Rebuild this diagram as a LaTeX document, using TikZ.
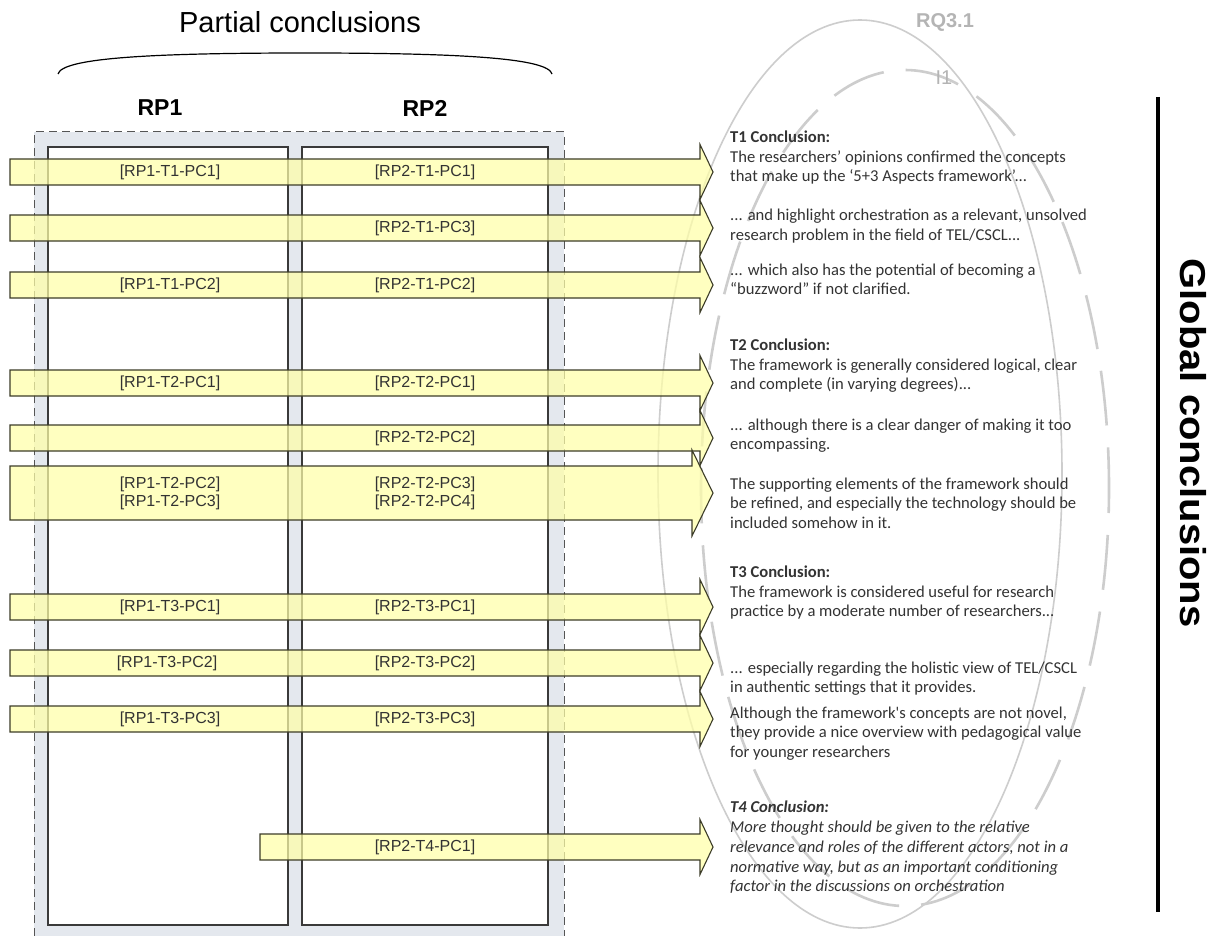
\documentclass[tikz,border=0pt]{standalone}
\usepackage{fontspec}
\setmainfont{Liberation Sans}
\newfontfamily\conclfont{Carlito}
\usetikzlibrary{calc}

\definecolor{stripgray}{HTML}{E4E8EE}
\definecolor{framegray}{HTML}{555555}
\definecolor{colline}{HTML}{3A3A3A}
\definecolor{arrowfill}{HTML}{FFFFA8}
\definecolor{arrowline}{HTML}{3C3C28}
\definecolor{ovalgray}{HTML}{CDCDCD}
\definecolor{rqgray}{HTML}{B4B4B4}
\definecolor{textgray}{HTML}{333333}

\tikzset{
  colbox/.style={draw=colline, line width=1.2pt, fill=white},
  pcarrowstyle/.style={draw=arrowline, line width=1.1pt, fill=arrowfill, fill opacity=0.72, line join=miter},
  pclabel/.style={font=\fontsize{16}{18}\selectfont, text=textgray, align=center, inner sep=0pt},
  concl/.style={font=\conclfont\fontsize{16.6}{19.5}\selectfont, text=textgray, anchor=base west, inner sep=0pt},
  headtitle/.style={font=\bfseries\fontsize{23}{26}\selectfont, text=black, inner sep=0pt},
}

% arrow: #1 start x, #2 centre y, #3 body half height, #4 head base x, #5 head half height
\newcommand{\pcarrow}[5]{%
  \draw[pcarrowstyle] (#1,#2-#3) -- (#4,#2-#3) -- (#4,#2-#5) -- (713,#2)
    -- (#4,#2+#5) -- (#4,#2+#3) -- (#1,#2+#3) -- cycle;}

\begin{document}
\begin{tikzpicture}[x=1pt, y=-1pt]
\useasboundingbox[fill=white] (0,0) rectangle (1212,936);

% research phase columns
\fill[stripgray] (34,132) rectangle (564,936);
\draw[framegray, line width=1pt, dash pattern=on 8pt off 5pt] (34,936) -- (34,132) -- (564,132) -- (564,936);
\draw[colbox] (48,147) rectangle (288,925);
\draw[colbox] (302,147) rectangle (548,925);

% titles
\node[font=\fontsize{29}{32}\selectfont, inner sep=0pt] (pctitle) at (300,22) {Partial conclusions};
\draw[line width=1.2pt] (58,74) .. controls (62,58) and (150,53) .. (305,53)
                               .. controls (460,53) and (548,58) .. (552,74);
\node[headtitle] (rp1) at (160,108) {RP1};
\node[headtitle] (rp2) at (425,108) {RP2};

% research question ovals
\draw[ovalgray, line width=1.6pt] (860,474) ellipse [x radius=202, y radius=454];
\draw[ovalgray, line width=2.6pt, dash pattern=on 55pt off 22pt, dash phase=30pt] (905,488) ellipse [x radius=204, y radius=418];
\node[font=\bfseries\fontsize{20}{22}\selectfont, text=rqgray, inner sep=0pt] (rq) at (945,22) {RQ3.1};
\node[font=\fontsize{20}{22}\selectfont, text=rqgray, inner sep=0pt] (ione) at (944,78) {I1};

% partial conclusion arrows
\pcarrow{10}{172}{13}{700}{27.5}
\pcarrow{10}{228}{13}{700}{27.5}
\pcarrow{10}{285}{13}{700}{27.5}
\pcarrow{10}{383}{13}{700}{27.5}
\pcarrow{10}{438}{13}{700}{27.5}
\pcarrow{10}{493}{27}{692}{43}
\pcarrow{10}{607}{13}{700}{27.5}
\pcarrow{10}{663}{13}{700}{27.5}
\pcarrow{10}{719}{13}{700}{27.5}
\pcarrow{260}{847}{13}{700}{27.5}

% arrow labels
\node[pclabel] (a1) at (170,172) {[RP1-T1-PC1]};
\node[pclabel] (b1) at (425,172) {[RP2-T1-PC1]};
\node[pclabel] (b2) at (425,228) {[RP2-T1-PC3]};
\node[pclabel] (a3) at (170,285) {[RP1-T1-PC2]};
\node[pclabel] (b3) at (425,285) {[RP2-T1-PC2]};
\node[pclabel] (a4) at (170,383) {[RP1-T2-PC1]};
\node[pclabel] (b4) at (425,383) {[RP2-T2-PC1]};
\node[pclabel] (b5) at (425,438) {[RP2-T2-PC2]};
\node[pclabel] (a6) at (170,493) {[RP1-T2-PC2]\\\relax[RP1-T2-PC3]};
\node[pclabel] (b6) at (425,493) {[RP2-T2-PC3]\\\relax[RP2-T2-PC4]};
\node[pclabel] (a7) at (170,607) {[RP1-T3-PC1]};
\node[pclabel] (b7) at (425,607) {[RP2-T3-PC1]};
\node[pclabel] (a8) at (167,663) {[RP1-T3-PC2]};
\node[pclabel] (b8) at (425,663) {[RP2-T3-PC2]};
\node[pclabel] (a9) at (170,719) {[RP1-T3-PC3]};
\node[pclabel] (b9) at (425,719) {[RP2-T3-PC3]};
\node[pclabel] (b10) at (425,847) {[RP2-T4-PC1]};

% global conclusions text
\foreach \yy/\lntxt in {
  143/{\textbf{T1 Conclusion:}},
  163/{The researchers’ opinions confirmed the concepts},
  182/{that make up the ‘5+3 Aspects framework’...},
  220/{... and highlight orchestration as a relevant, unsolved},
  240/{research problem in the field of TEL/CSCL...},
  275/{... which also has the potential of becoming a},
  294/{“buzzword” if not clarified.},
  350/{\textbf{T2 Conclusion:}},
  370/{The framework is generally considered logical, clear},
  389/{and complete (in varying degrees)...},
  430/{... although there is a clear danger of making it too},
  449/{encompassing.},
  489/{The supporting elements of the framework should},
  508/{be refined, and especially the technology should be},
  528/{included somehow in it.},
  577/{\textbf{T3 Conclusion:}},
  597/{The framework is considered useful for research},
  616/{practice by a moderate number of researchers...},
  673/{... especially regarding the holistic view of TEL/CSCL},
  692/{in authentic settings that it provides.},
  718/{Although the framework\textquotesingle s concepts are not novel,},
  737/{they provide a nice overview with pedagogical value},
  757/{for younger researchers},
  812/{\textbf{\textit{T4 Conclusion:}}},
  832/{\textit{More thought should be given to the relative}},
  852/{\textit{relevance and roles of the different actors, not in a}},
  872/{\textit{normative way, but as an important conditioning}},
  891/{\textit{factor in the discussions on orchestration}}}
  \node[concl] (gc\yy) at (730,\yy) {\lntxt};

% global conclusions side label
\draw[line width=3.5pt] (1158,97) -- (1158,912);
\node[font=\bfseries\fontsize{40}{44}\selectfont, xscale=0.9, rotate=-90, inner sep=0pt] (glob) at (1193,443) {Global conclusions};
\end{tikzpicture}
\end{document}
